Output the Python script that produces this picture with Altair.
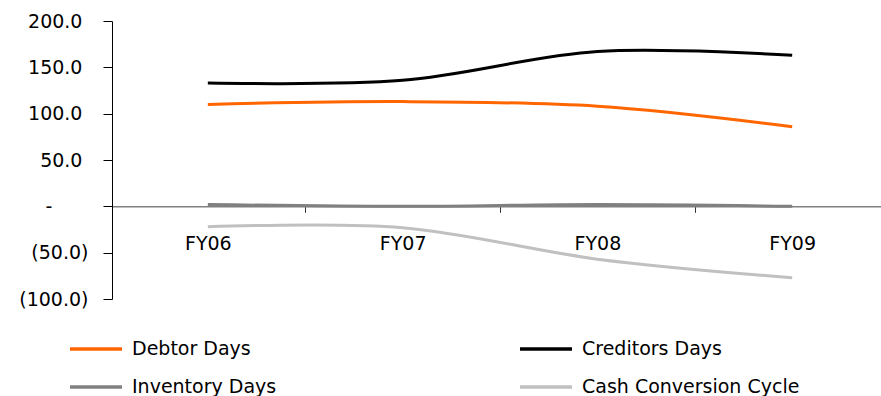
import json
import altair as alt
import pandas as pd

# Working-capital days by fiscal year
years = ["FY06", "FY07", "FY08", "FY09"]
debtor_days = [110, 113, 108, 86]
creditors_days = [133, 136, 167, 163]
inventory_days = [2, 0, 2, 0]
cash_conversion_cycle = [-22, -23, -57, -77]

series_names = ["Debtor Days", "Creditors Days", "Inventory Days", "Cash Conversion Cycle"]
series_values = [debtor_days, creditors_days, inventory_days, cash_conversion_cycle]
series_colors = ["#FF6600", "#000000", "#808080", "#C0C0C0"]

rows = []
for name, values in zip(series_names, series_values):
    for i, (yr, v) in enumerate(zip(years, values)):
        rows.append({"idx": i, "year": yr, "series": name, "value": v})
df = pd.DataFrame(rows)

FONT = "DejaVu Sans"
FONT_SIZE = 19

# category names at whole positions, tick marks only between categories
x_label_expr = f"datum.value % 1 === 0 ? {json.dumps(years)}[datum.value] : ''"
# accounting style: (negatives), "-" for zero; a zero-width char keeps the padding
y_label_expr = (
    "datum.value == 0 ? '-\u2007\u2007\u2007\u200b' : "
    "datum.value < 0 ? '(' + format(-datum.value, ',.1f') + ')' : "
    "format(datum.value, ',.1f') + '\u00a0\u200b'"
)

chart = (
    alt.Chart(df)
    .mark_line(interpolate="cardinal", tension=0, strokeWidth=3)
    .encode(
        x=alt.X(
            "idx:Q",
            title=None,
            scale=alt.Scale(domain=[-0.492, 3.456], nice=False, zero=False),
            axis=alt.Axis(
                values=[0, 0.5, 1, 1.5, 2, 2.5, 3],
                labelExpr=x_label_expr,
                offset=alt.ExprRef("scale('y', 0) - height"),
                orient="bottom",
                grid=False,
                domainColor="#808080",
                domainWidth=1.5,
                tickColor="#333333",
                tickSize=6,
                tickOpacity={"condition": {"test": "datum.value % 1 !== 0", "value": 1}, "value": 0},
                labelPadding=22,
                labelFont=FONT,
                labelFontSize=FONT_SIZE,
                labelColor="#000000",
                labelFlush=False,
                labelOverlap=False,
            ),
        ),
        y=alt.Y(
            "value:Q",
            title=None,
            scale=alt.Scale(domain=[-100, 200], nice=False),
            axis=alt.Axis(
                values=[-100, -50, 0, 50, 100, 150, 200],
                labelExpr=y_label_expr,
                grid=False,
                domainColor="#000000",
                domainWidth=1,
                tickColor="#000000",
                tickSize=9,
                labelPadding=15,
                labelFont=FONT,
                labelFontSize=FONT_SIZE,
                labelColor="#000000",
                labelBaseline="middle",
            ),
        ),
        color=alt.Color(
            "series:N",
            scale=alt.Scale(domain=series_names, range=series_colors),
            legend=alt.Legend(
                title=None,
                orient="none",
                direction="horizontal",
                legendX=-44,
                legendY=300,
                columns=2,
                symbolType="stroke",
                symbolSize=2704,
                symbolStrokeWidth=3.5,
                labelOffset=8,
                labelFont=FONT,
                labelFontSize=19,
                labelColor="#000000",
                labelLimit=0,
                columnPadding=236,
                rowPadding=-20,
                padding=0,
            ),
        ),
        detail="series:N",
    )
    .properties(
        width=769,
        height=278,
        padding={"left": 112, "top": 21, "right": 0, "bottom": 97},
        autosize=alt.AutoSizeParams(type="none"),
    )
    .configure_view(strokeWidth=0)
)

chart.save("out.html", embed_options={"renderer": "svg", "actions": False})
